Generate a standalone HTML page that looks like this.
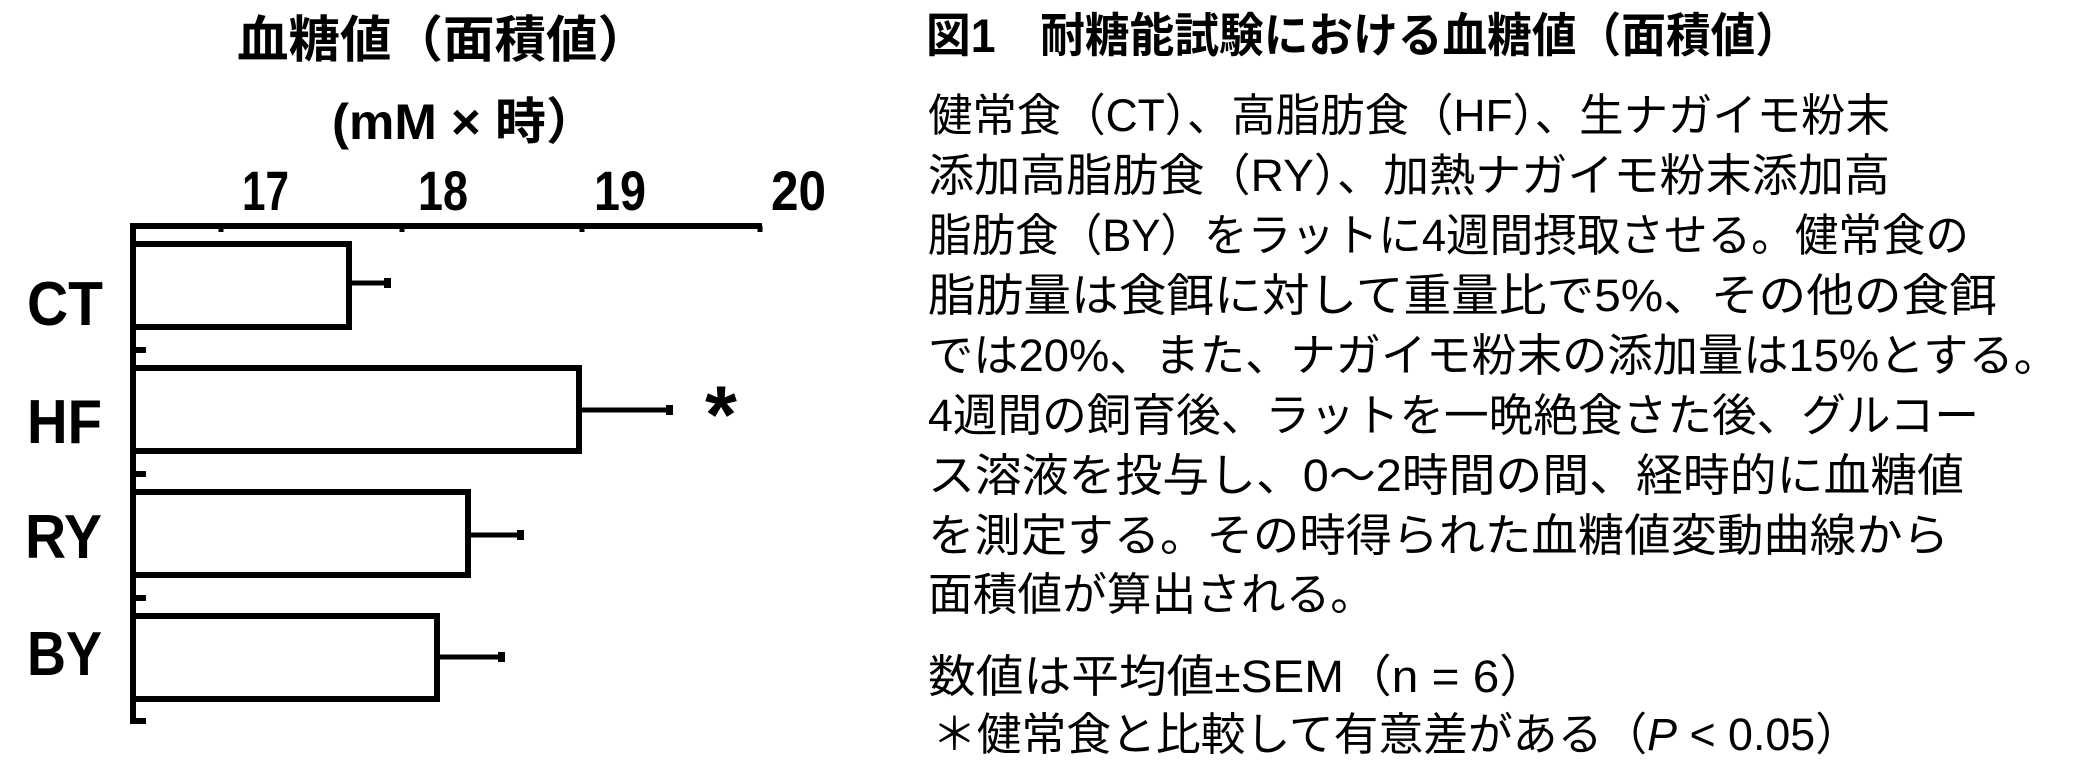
<!DOCTYPE html>
<html><head><meta charset="utf-8"><style>
html,body{margin:0;padding:0;background:#fff;}
svg{display:block;}
text{font-family:"Liberation Sans","Noto Sans CJK JP",sans-serif;fill:#000;}
.b{font-weight:bold;}
</style></head><body>
<svg width="2076" height="775" viewBox="0 0 2076 775" xmlns="http://www.w3.org/2000/svg">
<!-- chart titles -->
<text class="b" x="237" y="57" font-size="50" textLength="412" lengthAdjust="spacingAndGlyphs">血糖値（面積値）</text>
<text class="b" x="332" y="139" font-size="50" textLength="265" lengthAdjust="spacingAndGlyphs">(mM × 時）</text>
<text class="b" x="242" y="210" font-size="56" textLength="47" lengthAdjust="spacingAndGlyphs">17</text>
<text class="b" x="418" y="210" font-size="56" textLength="50" lengthAdjust="spacingAndGlyphs">18</text>
<text class="b" x="594" y="210" font-size="56" textLength="52" lengthAdjust="spacingAndGlyphs">19</text>
<text class="b" x="771" y="210" font-size="56" textLength="55" lengthAdjust="spacingAndGlyphs">20</text>
<!-- axes -->
<g stroke="#000" fill="none" stroke-width="6">
<line x1="130" y1="226" x2="762" y2="226"/>
<line x1="133" y1="223" x2="133" y2="724"/>
<line x1="221" y1="226" x2="221" y2="232" stroke-width="5"/>
<line x1="402" y1="226" x2="402" y2="232" stroke-width="5"/>
<line x1="582" y1="226" x2="582" y2="232" stroke-width="5"/>
<line x1="760" y1="226" x2="760" y2="232" stroke-width="5"/>
<line x1="133" y1="350" x2="146" y2="350"/>
<line x1="133" y1="474" x2="146" y2="474"/>
<line x1="133" y1="598" x2="146" y2="598"/>
<line x1="133" y1="721" x2="146" y2="721"/>
<!-- bars -->
<rect x="133" y="244" width="216" height="83"/>
<rect x="133" y="368" width="446" height="83"/>
<rect x="133" y="492" width="335" height="83"/>
<rect x="133" y="616" width="304" height="83"/>
<!-- error bars -->
<line x1="349" y1="283" x2="388" y2="283" stroke-width="5"/>
<line x1="579" y1="410" x2="670" y2="410" stroke-width="5"/>
<line x1="468" y1="535" x2="520" y2="535" stroke-width="5"/>
<line x1="437" y1="657" x2="501" y2="657" stroke-width="5"/>
</g>
<g fill="#000">
<rect x="384" y="278" width="7" height="10"/>
<rect x="666" y="405" width="7" height="10"/>
<rect x="517" y="530" width="7" height="10"/>
<rect x="498" y="652" width="7" height="10"/>
</g>
<text class="b" x="705" y="443" font-size="82">*</text>
<!-- group labels -->
<text class="b" x="27" y="325" font-size="62" textLength="76" lengthAdjust="spacingAndGlyphs">CT</text>
<text class="b" x="27" y="443" font-size="62" textLength="75" lengthAdjust="spacingAndGlyphs">HF</text>
<text class="b" x="25" y="558" font-size="62" textLength="77" lengthAdjust="spacingAndGlyphs">RY</text>
<text class="b" x="27" y="675" font-size="62" textLength="75" lengthAdjust="spacingAndGlyphs">BY</text>
<!-- right text -->
<text class="b" x="926" y="52" font-size="47" textLength="874" lengthAdjust="spacingAndGlyphs">図1　耐糖能試験における血糖値（面積値）</text>
<g font-size="45">
<text x="928" y="131" textLength="962" lengthAdjust="spacingAndGlyphs">健常食（CT）、高脂肪食（HF）、生ナガイモ粉末</text>
<text x="928" y="191" textLength="962" lengthAdjust="spacingAndGlyphs">添加高脂肪食（RY）、加熱ナガイモ粉末添加高</text>
<text x="928" y="251" textLength="1041" lengthAdjust="spacingAndGlyphs">脂肪食（BY）をラットに4週間摂取させる。健常食の</text>
<text x="928" y="311" textLength="1069" lengthAdjust="spacingAndGlyphs">脂肪量は食餌に対して重量比で5%、その他の食餌</text>
<text x="928" y="371" textLength="1131" lengthAdjust="spacingAndGlyphs">では20%、また、ナガイモ粉末の添加量は15%とする。</text>
<text x="928" y="431" textLength="1051" lengthAdjust="spacingAndGlyphs">4週間の飼育後、ラットを一晩絶食さた後、グルコー</text>
<text x="928" y="491" textLength="1036" lengthAdjust="spacingAndGlyphs">ス溶液を投与し、0～2時間の間、経時的に血糖値</text>
<text x="928" y="551" textLength="1021" lengthAdjust="spacingAndGlyphs">を測定する。その時得られた血糖値変動曲線から</text>
<text x="928" y="610" textLength="447" lengthAdjust="spacingAndGlyphs">面積値が算出される。</text>
<text x="928" y="692" textLength="619" lengthAdjust="spacingAndGlyphs">数値は平均値±SEM（n = 6）</text>
<text x="932" y="750" textLength="928" lengthAdjust="spacingAndGlyphs">＊健常食と比較して有意差がある（<tspan font-style="italic">P</tspan> &lt; 0.05）</text>
</g>
</svg>
</body></html>
